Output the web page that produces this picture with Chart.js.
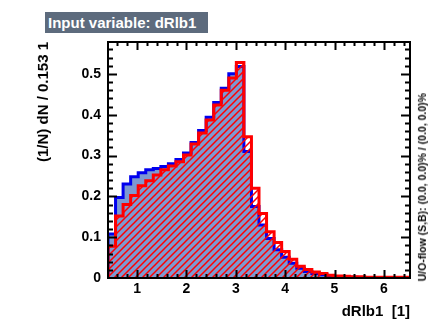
<!DOCTYPE html>
<html>
<head>
<meta charset="utf-8">
<script src="https://cdn.jsdelivr.net/npm/chart.js@4.4.1/dist/chart.umd.min.js"></script>
<style>
    body { margin: 0; background: #fff; }
    #wrap { position: relative; width: 428px; height: 321px; font-family: "Liberation Sans", Arial, sans-serif; }
    #plot { position: absolute; left: 0; top: 0; }
    .title-box {
        position: absolute; left: 45px; top: 12px; height: 21px; width: 163px;
        background: #5d6b7d; color: #fff; font-weight: bold; font-size: 15px;
        line-height: 21px; padding-left: 3px; box-sizing: border-box; white-space: nowrap;
    }
    .vtext {
        position: absolute; writing-mode: vertical-rl; transform: rotate(180deg);
        white-space: pre; color: #000;
    }
    .ytitle { left: 35px; top: 42px; font-weight: bold; font-size: 15px; line-height: 16px; }
    .xtitle {
        position: absolute; right: 18px; top: 302px; font-weight: bold; font-size: 15px;
        white-space: pre; color: #000;
    }
    .flow { left: 416px; bottom: 40px; font-size: 10.5px; font-weight: bold; line-height: 12px; }
</style>
</head>
<body>
<div id="wrap">
    <canvas id="plot" width="428" height="321"></canvas>
    <div class="title-box">Input variable: dRlb1</div>
    <div class="vtext ytitle">(1/N) dN / 0.153 1</div>
    <div class="xtitle">dRlb1  [1]</div>
    <div class="vtext flow">U/O-flow (S,B): (0.0, 0.0)% / (0.0, 0.0)%</div>
</div>
<script>
// binning of dRlb1
const xMin = 0.41;
const binWidth = 0.153;

// normalised signal histogram, one value per bin
const signalValues = [
    0.108, 0.197, 0.230, 0.248, 0.258, 0.265, 0.268, 0.273, 0.280, 0.290,
    0.306, 0.332, 0.361, 0.394, 0.430, 0.465, 0.500, 0.518, 0.310, 0.175,
    0.130, 0.097, 0.069, 0.051, 0.036, 0.024, 0.016, 0.011, 0.008, 0.005,
    0.003, 0.002, 0.002, 0.001, 0.001, 0.001, 0.0005, 0.0005, 0.0003, 0.0002
];

// normalised background histogram
const backgroundValues = [
    0.078, 0.152, 0.180, 0.202, 0.226, 0.238, 0.252, 0.265, 0.274, 0.285,
    0.301, 0.328, 0.355, 0.387, 0.424, 0.460, 0.490, 0.528, 0.346, 0.220,
    0.158, 0.113, 0.087, 0.065, 0.046, 0.029, 0.021, 0.015, 0.011, 0.007,
    0.005, 0.004, 0.003, 0.003, 0.002, 0.002, 0.002, 0.002, 0.002, 0.002
];

const xTickValues = [1, 2, 3, 4, 5, 6];
const yTickValues = [0, 0.1, 0.2, 0.3, 0.4, 0.5];
const xMinorStep = 0.2;
const yMinorStep = 0.02;
const yMax = 0.578;

const xMax = xMin + binWidth * signalValues.length;

// turn bin contents into an outline: both corners of every bin
function histPoints(values) {
    const pts = [{ x: xMin, y: 0 }];
    values.forEach((v, i) => {
        const lo = xMin + i * binWidth;
        pts.push({ x: lo, y: v });
        pts.push({ x: lo + binWidth, y: v });
    });
    pts.push({ x: xMax, y: 0 });
    return pts;
}

// red "/" hatch for the background fill
function makeHatch() {
    const size = 7;
    const c = document.createElement("canvas");
    c.width = size;
    c.height = size;
    const g = c.getContext("2d");
    g.strokeStyle = "#ff0000";
    g.lineWidth = 1.5;
    g.beginPath();
    g.moveTo(-1, size + 1); g.lineTo(size + 1, -1);
    g.moveTo(-1, 1); g.lineTo(1, -1);
    g.moveTo(size - 1, size + 1); g.lineTo(size + 1, size - 1);
    g.stroke();
    return g.createPattern(c, "repeat");
}

// ROOT-like frame with inward ticks on all four sides
const framePlugin = {
    id: "frame",
    afterDatasetsDraw(chart) {
        const { ctx, chartArea: a, scales } = chart;
        const sx = scales.x, sy = scales.y;
        ctx.save();
        ctx.strokeStyle = "#000";
        ctx.lineWidth = 2;
        ctx.strokeRect(a.left, a.top, a.right - a.left, a.bottom - a.top);
        ctx.beginPath();
        const nx = Math.round((xMax - 0.2) / xMinorStep);
        for (let k = 1; k <= nx; k++) {
            const v = k * xMinorStep;
            if (v < xMin || v > xMax) continue;
            const major = Math.abs(v - Math.round(v)) < 1e-6;
            const len = major ? 8 : 4;
            const px = Math.round(sx.getPixelForValue(v)) + 0.5;
            ctx.moveTo(px, a.bottom); ctx.lineTo(px, a.bottom - len);
            ctx.moveTo(px, a.top); ctx.lineTo(px, a.top + len);
        }
        const ny = Math.floor(yMax / yMinorStep);
        for (let k = 1; k <= ny; k++) {
            const v = k * yMinorStep;
            const major = k % 5 === 0;
            const len = major ? 9 : 5;
            const py = Math.round(sy.getPixelForValue(v)) + 0.5;
            ctx.moveTo(a.left, py); ctx.lineTo(a.left + len, py);
            ctx.moveTo(a.right, py); ctx.lineTo(a.right - len, py);
        }
        ctx.stroke();
        ctx.restore();
    }
};

const tickFont = { family: "'Liberation Sans', Arial, sans-serif", size: 14, weight: "bold" };

new Chart(document.getElementById("plot"), {
    type: "line",
    data: {
        datasets: [
            {
                label: "Signal",
                data: histPoints(signalValues),
                borderColor: "#0000ee",
                backgroundColor: "#7d99d1",
                borderWidth: 3,
                fill: "origin",
                pointRadius: 0,
                tension: 0,
                order: 2
            },
            {
                label: "Background",
                data: histPoints(backgroundValues),
                borderColor: "#ff0000",
                backgroundColor: makeHatch(),
                borderWidth: 3,
                fill: "origin",
                pointRadius: 0,
                tension: 0,
                order: 1
            }
        ]
    },
    options: {
        responsive: false,
        animation: false,
        events: [],
        layout: {
            padding: { left: 48, top: 42, right: 18, bottom: 13 }
        },
        plugins: {
            legend: { display: false },
            tooltip: { enabled: false }
        },
        scales: {
            x: {
                type: "linear",
                min: xMin,
                max: xMax,
                grid: { display: false, drawTicks: false },
                border: { display: false },
                ticks: { font: tickFont, color: "#000", padding: 3 },
                afterBuildTicks(scale) {
                    scale.ticks = xTickValues.map(v => ({ value: v }));
                },
                afterFit(scale) {
                    scale.height = 30;
                }
            },
            y: {
                type: "linear",
                min: 0,
                max: yMax,
                grid: { display: false, drawTicks: false },
                border: { display: false },
                ticks: {
                    font: tickFont,
                    color: "#000",
                    padding: 7,
                    callback: v => (v === 0 ? "0" : v.toFixed(1))
                },
                afterBuildTicks(scale) {
                    scale.ticks = yTickValues.map(v => ({ value: v }));
                },
                afterFit(scale) {
                    scale.width = 60;
                }
            }
        }
    },
    plugins: [framePlugin]
});
</script>
</body>
</html>
